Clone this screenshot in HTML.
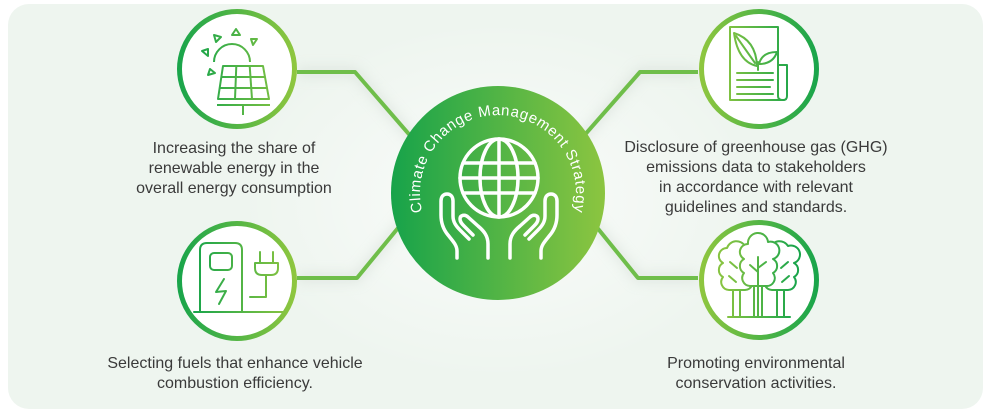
<!DOCTYPE html>
<html><head><meta charset="utf-8"><style>
html,body{margin:0;padding:0;background:#fff;}
svg{display:block;}
text{font-family:"Liberation Sans",sans-serif;}
</style></head><body>
<svg width="985" height="413" viewBox="0 0 985 413" xmlns="http://www.w3.org/2000/svg">
<defs>
<linearGradient id="gc" x1="0" y1="0" x2="1" y2="0"><stop offset="0" stop-color="#17a34a"/><stop offset="1" stop-color="#8cc540"/></linearGradient>
<linearGradient id="gL" x1="0" y1="0" x2="1" y2="0"><stop offset="0" stop-color="#1aa54b"/><stop offset="1" stop-color="#8ec63f"/></linearGradient>
<linearGradient id="gR" x1="0" y1="0" x2="1" y2="0"><stop offset="0" stop-color="#8ec63f"/><stop offset="1" stop-color="#1aa54b"/></linearGradient>
<linearGradient id="iL" gradientUnits="userSpaceOnUse" x1="195" y1="0" x2="285" y2="0"><stop offset="0" stop-color="#1aa54b"/><stop offset="1" stop-color="#86c341"/></linearGradient>
<linearGradient id="iR" gradientUnits="userSpaceOnUse" x1="725" y1="0" x2="795" y2="0"><stop offset="0" stop-color="#86c341"/><stop offset="1" stop-color="#1aa54b"/></linearGradient>
<radialGradient id="glow" cx="0.5" cy="0.5" r="0.5"><stop offset="0" stop-color="#ffffff" stop-opacity="0.7"/><stop offset="1" stop-color="#ffffff" stop-opacity="0"/></radialGradient>
<filter id="sh" x="-30%" y="-30%" width="160%" height="160%"><feGaussianBlur stdDeviation="6"/></filter>
<path id="arc" d="M 422.3 211.9 A 78 78 0 1 1 573.7 211.9"/>
</defs>

<rect x="8" y="4" width="975" height="405" rx="21" fill="#eef5ef"/>
<ellipse cx="498" cy="200" rx="260" ry="180" fill="url(#glow)"/>

<!-- connectors shadow -->
<g stroke="#c9d3cb" stroke-width="8" fill="none" opacity="0.5" filter="url(#sh)">
<polyline points="297,72 355,72 440,170"/>
<polyline points="297,278 357,278 430,189"/>
<polyline points="698,72 640,72 560,163"/>
<polyline points="698,278 638,278 565,188"/>
</g>
<!-- connectors -->
<g stroke="#6fbe4a" stroke-width="4" fill="none" stroke-linejoin="round">
<polyline points="297,72 355,72 440,170"/>
<polyline points="297,278 357,278 430,189"/>
<polyline points="698,72 640,72 560,163"/>
<polyline points="698,278 638,278 565,188"/>
</g>

<!-- central circle -->
<circle cx="498" cy="193" r="107" fill="url(#gc)"/>
<text font-size="15" fill="#ffffff"><textPath href="#arc" textLength="282" lengthAdjust="spacing">Climate Change Management Strategy</textPath></text>

<!-- globe -->
<g stroke="#ffffff" stroke-width="3.5" fill="none" stroke-linecap="round" stroke-linejoin="round">
<circle cx="499" cy="178" r="39"/>
<ellipse cx="499" cy="178" rx="19" ry="39"/>
<line x1="499" y1="139" x2="499" y2="217"/>
<line x1="460" y1="178" x2="538" y2="178"/>
<line x1="463" y1="163" x2="535" y2="163"/>
<line x1="463" y1="193" x2="535" y2="193"/>
<g id="hand">
<path d="M 457 258 L 457 251 C 457 245 452 240 448 235 C 443 229 441 223 441 215 L 441 201 C 441 196 444 194 447 194 C 450 194 453 196 453 201 L 453 216 C 453 222 456 226 460 230 L 469 239"/>
<path d="M 488 258 L 488 244 C 488 236 484 231 478 226 L 468 217 C 465 214 460 215 460 219 C 460 222 462 224 464 226 L 473 235"/>
</g>
<use href="#hand" transform="translate(998,0) scale(-1,1)"/>
</g>

<!-- node circles -->
<circle cx="237" cy="69" r="57.5" fill="#ffffff" stroke="url(#gL)" stroke-width="5"/>
<circle cx="237" cy="281" r="57.5" fill="#ffffff" stroke="url(#gL)" stroke-width="5"/>
<circle cx="759" cy="69" r="57.5" fill="#ffffff" stroke="url(#gR)" stroke-width="5"/>
<circle cx="759" cy="280" r="57.5" fill="#ffffff" stroke="url(#gR)" stroke-width="5"/>

<!-- solar icon -->
<g stroke="url(#iL)" stroke-width="2" fill="none" stroke-linejoin="round">
<path d="M 214 62 A 18 18 0 0 1 250 62"/>
<polygon points="214,35 221,37 216,42"/>
<polygon points="236,29 240,35 232,35"/>
<polygon points="251,39 257,39 253,45"/>
<polygon points="202,51 208,49 208,56"/>
<polygon points="210,69 215,73 208,75"/>
<polygon points="223,66 263,66 269,99 218,99" fill="#fff"/>
<line x1="236.3" y1="66" x2="235" y2="99"/>
<line x1="249.7" y1="66" x2="252" y2="99"/>
<line x1="221.3" y1="77" x2="265" y2="77"/>
<line x1="219.7" y1="88" x2="267" y2="88"/>
<line x1="217" y1="105" x2="270" y2="105"/>
<line x1="243" y1="105" x2="243" y2="115"/>
</g>

<!-- charger icon -->
<g stroke="url(#iL)" stroke-width="2" fill="none" stroke-linejoin="round" stroke-linecap="round">
<path d="M 200 312 L 200 250 Q 200 243 207 243 L 235 243 Q 242 243 242 250 L 242 312"/>
<rect x="210" y="253" width="22" height="17" rx="4"/>
<polyline points="224,279 216,292 226,291 219,304"/>
<line x1="194" y1="312" x2="283" y2="312"/>
<path d="M 255 263 L 278 263 L 278 268 Q 278 275 271 275 L 262 275 Q 255 275 255 268 Z"/>
<line x1="260" y1="252" x2="260" y2="263"/>
<line x1="273" y1="252" x2="273" y2="263"/>
<polyline points="266,275 266,297 250,297"/>
</g>

<!-- document icon -->
<g stroke="url(#iR)" stroke-width="2" fill="none" stroke-linejoin="round" stroke-linecap="round">
<path d="M 778 65 L 778 27 L 730 27 L 730 100 L 784 100"/>
<path d="M 778 65 L 787 65 L 787 96 Q 787 100 783 100 Q 778 100 778 96 L 778 65"/>
<path d="M 757 66 Q 738 62 734 33 Q 756 40 757 66 Z"/>
<path d="M 736 36 L 755 63"/>
<path d="M 759 64 Q 762 52 777 52 Q 773 64 759 64 Z"/>
<path d="M 758 70 L 758 62"/>
<line x1="737" y1="73" x2="773" y2="73"/>
<line x1="737" y1="80" x2="773" y2="80"/>
<line x1="737" y1="87" x2="770" y2="87"/>
<line x1="737" y1="94" x2="773" y2="94"/>
</g>

<!-- trees icon -->
<g stroke="url(#iR)" stroke-width="2" fill="#fff" stroke-linejoin="round" stroke-linecap="round">
<path d="M 729 290 A 8 8 0 0 1 723 277 A 8 8 0 0 1 723 263 A 8 8 0 0 1 727 248 A 10 10 0 0 1 745 246 A 8 8 0 0 1 751 263 A 8 8 0 0 1 751 277 A 8 8 0 0 1 745 290 Z"/>
<path d="M 772 290 A 8 8 0 0 1 766 277 A 8 8 0 0 1 766 263 A 8 8 0 0 1 770 248 A 10 10 0 0 1 788 246 A 8 8 0 0 1 794 263 A 8 8 0 0 1 794 277 A 8 8 0 0 1 788 290 Z"/>
<path d="M 750 286 A 8 8 0 0 1 744 273 A 8 8 0 0 1 744 259 A 8 8 0 0 1 748 244 A 10 10 0 0 1 768 242 A 8 8 0 0 1 773 259 A 8 8 0 0 1 773 273 A 8 8 0 0 1 766 286 Z"/>
<g fill="none">
<line x1="758" y1="257" x2="758" y2="317"/>
<line x1="758" y1="272" x2="750" y2="265"/>
<line x1="758" y1="268" x2="766" y2="262"/>
<line x1="754" y1="286" x2="754" y2="317"/>
<line x1="762" y1="286" x2="762" y2="317"/>
<line x1="733" y1="290" x2="733" y2="317"/>
<line x1="740" y1="290" x2="740" y2="317"/>
<line x1="777" y1="290" x2="777" y2="317"/>
<line x1="784" y1="290" x2="784" y2="317"/>
<line x1="730" y1="262" x2="737" y2="268"/>
<line x1="729" y1="276" x2="736" y2="282"/>
<line x1="788" y1="262" x2="781" y2="268"/>
<line x1="789" y1="276" x2="782" y2="282"/>
<line x1="728" y1="317" x2="790" y2="317"/>
</g>
</g>

<!-- labels -->
<g font-size="16" fill="#3a3a3a" text-anchor="middle">
<text x="234" y="153">Increasing the share of</text>
<text x="234" y="173">renewable energy in the</text>
<text x="234" y="193">overall energy consumption</text>
<text x="235" y="368">Selecting fuels that enhance vehicle</text>
<text x="235" y="388">combustion efficiency.</text>
<text x="756" y="152">Disclosure of greenhouse gas (GHG)</text>
<text x="756" y="172">emissions data to stakeholders</text>
<text x="756" y="192">in accordance with relevant</text>
<text x="756" y="212">guidelines and standards.</text>
<text x="756" y="368">Promoting environmental</text>
<text x="756" y="388">conservation activities.</text>
</g>
</svg>
</body></html>
